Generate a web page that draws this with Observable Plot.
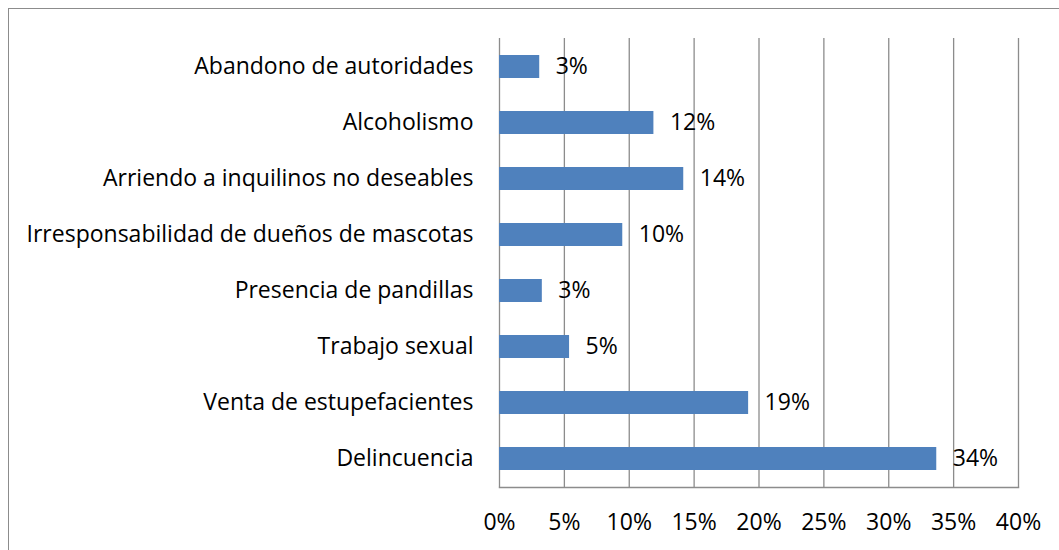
<!DOCTYPE html>
<html>
<head>
<meta charset="utf-8">
<script src="https://cdn.jsdelivr.net/npm/d3@7"></script>
<script src="https://cdn.jsdelivr.net/npm/@observablehq/plot@0.6"></script>
<style>
  html, body { margin: 0; padding: 0; background: #fff; overflow: hidden; width: 1059px; height: 550px; }
  #chart { position: absolute; left: 0; top: 0; }
  #border { position: absolute; left: 8px; top: 8px; width: 1100px; height: 600px; border: 1.5px solid #8c8c8c; pointer-events: none; }
</style>
</head>
<body>
<div id="chart"></div>
<div id="border"></div>
<script>
const categories = [
  "Abandono de autoridades",
  "Alcoholismo",
  "Arriendo a inquilinos no deseables",
  "Irresponsabilidad de dueños de mascotas",
  "Presencia de pandillas",
  "Trabajo sexual",
  "Venta de estupefacientes",
  "Delincuencia"
];
const values = [0.031, 0.119, 0.142, 0.095, 0.033, 0.054, 0.192, 0.337];
const xTicks = [0, 0.05, 0.10, 0.15, 0.20, 0.25, 0.30, 0.35, 0.40];

const data = categories.map((c, i) => ({category: c, value: values[i]}));
const pct = d3.format(".0%");
const font = "'Open Sans', sans-serif";
const fs = 23;

const chart = Plot.plot({
  width: 1059,
  height: 550,
  marginLeft: 499,
  marginRight: 41,
  marginTop: 38,
  marginBottom: 63,
  style: {fontFamily: font, fontSize: fs + "px", color: "#000", background: "transparent"},
  x: {domain: [0, 0.40]},
  y: {domain: categories, paddingInner: 0.59, paddingOuter: 0.295},
  marks: [
    Plot.gridX(xTicks, {stroke: "#8c8c8c", strokeOpacity: 1, strokeWidth: 1.3}),
    Plot.frame({anchor: "bottom", stroke: "#8c8c8c", strokeWidth: 1.5}),
    Plot.barX(data, {x: "value", y: "category", fill: "#4f81bd"}),
    Plot.text(data, {x: "value", y: "category", text: d => pct(d.value), dx: 16, textAnchor: "start", fill: "#000", fontSize: fs}),
    Plot.axisX({ticks: xTicks, tickFormat: pct, tickSize: 0, tickPadding: 26, fontSize: fs, label: null}),
    Plot.axisY({tickSize: 0, tickPadding: 26, fontSize: fs, label: null})
  ]
});
document.getElementById("chart").appendChild(chart);
</script>
</body>
</html>
